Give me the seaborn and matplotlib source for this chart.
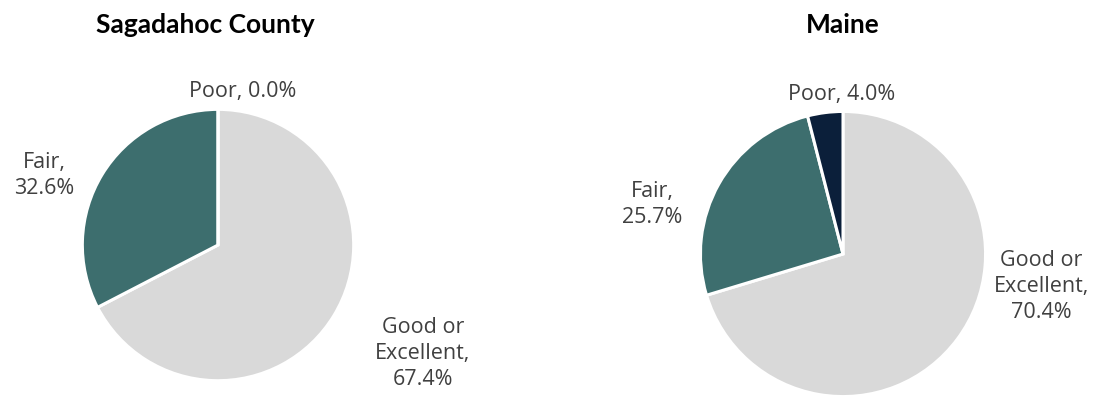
import matplotlib.pyplot as plt
import seaborn as sns

# ---------------- data ------------------#
categories = ["Good or\nExcellent", "Fair", "Poor"]
sagadahoc = [67.4, 32.6, 0.0]
maine = [70.4, 25.7, 4.0]
titles = ["Sagadahoc County", "Maine"]

colors = ["#D9D9D9", "#3D6E6E", "#0B1F3A"]

sns.set_theme(style="white")
plt.rcParams['font.family'] = ['Open Sans', 'DejaVu Sans']

fig = plt.figure(figsize=(11.05, 4.03), dpi=100)

# axes boxes in figure fractions (left, bottom, width, height)
boxes = [(0.0733, 0.052, 0.248, 0.680), (0.6326, 0.0124, 0.2606, 0.7146)]
# label positions in units of pie radius: good, fair, poor
label_pos = [
    [(1.51, -0.80), (-1.28, 0.51), (0.18, 1.13)],
    [(1.39, -0.23), (-1.34, 0.35), (-0.01, 1.12)],
]
title_x = [205 / 1105, 843 / 1105]

for vals, box, lpos, tx, title in zip([sagadahoc, maine], boxes, label_pos, title_x, titles):
    ax = fig.add_axes(box)
    ax.pie(vals, colors=colors, startangle=90, counterclock=False,
           wedgeprops=dict(edgecolor='white', linewidth=2.2), radius=1)
    ax.set_xlim(-1.01, 1.01)
    ax.set_ylim(-1.01, 1.01)
    ax.set_aspect('equal')
    ax.axis('off')
    for cat, v, (lx, ly) in zip(categories, vals, lpos):
        lab = "{}, {:.1f}%".format(cat, v)
        lab = lab.replace("Fair, ", "Fair,\n").replace("Excellent, ", "Excellent,\n")
        ax.text(lx, ly, lab, ha='center', va='center', fontsize=15.5,
                color='#404040', linespacing=1.32, clip_on=False)
    fig.text(tx, 1 - 25 / 403, title, ha='center', va='center', fontsize=19,
             fontweight='bold', color='black', family=['Lato', 'DejaVu Sans'])

fig.savefig('out.png', dpi=100)
